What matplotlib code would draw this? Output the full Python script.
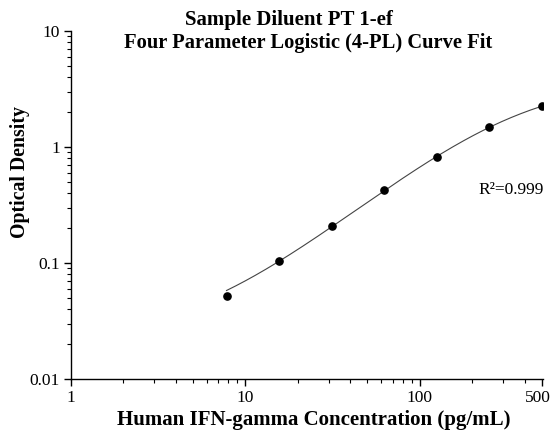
import numpy as np
import matplotlib
matplotlib.use("Agg")
import matplotlib.pyplot as plt
import matplotlib.transforms as mtransforms
from matplotlib.ticker import LogLocator, FixedLocator, FixedFormatter, NullFormatter

# standards
conc = [7.8, 15.6, 31.25, 62.5, 125, 250, 500]
od = [0.052, 0.105, 0.210, 0.424, 0.815, 1.48, 2.24]

x_ticks = [1, 10, 100, 500]
x_tick_labels = ["1", "10", "100", "500"]
y_ticks = [0.01, 0.1, 1, 10]
y_tick_labels = ["0.01", "0.1", "1", "10"]

SERIF = ["Liberation Serif", "DejaVu Serif"]
plt.rcParams["font.family"] = SERIF


def four_pl(x, a, b, c, d):
    return d + (a - d) / (1.0 + (x / c) ** b)


def fit_four_pl(x, y):
    """Grid over slope/midpoint, solve the two asymptotes by least squares."""
    x = np.asarray(x, float)
    y = np.asarray(y, float)
    best = None
    for b in np.linspace(0.5, 2.5, 201):
        for lc in np.linspace(1.0, 4.0, 301):
            g = 1.0 / (1.0 + (x / 10 ** lc) ** b)
            A = np.column_stack([g, 1.0 - g])
            coef = np.linalg.lstsq(A, y, rcond=None)[0]
            err = np.sum((A @ coef - y) ** 2)
            if best is None or err < best[0]:
                best = (err, coef[0], b, 10 ** lc, coef[1])
    return best[1:]


a, b, c, d = fit_four_pl(conc, od)
xs = np.logspace(np.log10(conc[0]), np.log10(conc[-1]), 200)

fig = plt.figure(figsize=(5.52, 4.38), dpi=100)
ax = fig.add_axes([71 / 552, 59 / 438, 472 / 552, 348 / 438])

ax.plot(xs, four_pl(xs, a, b, c, d), "-", color="#444444", lw=0.8)
ax.plot(conc, od, "o", color="black", ms=5.2)

ax.set_xscale("log")
ax.set_yscale("log")
ax.set_xlim(1, 510)
ax.set_ylim(0.01, 10)

ax.xaxis.set_major_locator(FixedLocator(x_ticks))
ax.xaxis.set_major_formatter(FixedFormatter(x_tick_labels))
ax.xaxis.set_minor_locator(LogLocator(base=10, subs=np.arange(2, 10)))
ax.xaxis.set_minor_formatter(NullFormatter())
ax.yaxis.set_major_locator(FixedLocator(y_ticks))
ax.yaxis.set_major_formatter(FixedFormatter(y_tick_labels))
ax.yaxis.set_minor_locator(LogLocator(base=10, subs=np.arange(2, 10)))
ax.yaxis.set_minor_formatter(NullFormatter())

for side in ("top", "right"):
    ax.spines[side].set_visible(False)
for side in ("left", "bottom"):
    ax.spines[side].set_linewidth(1.0)

ax.tick_params(which="major", direction="out", length=5, width=1.0,
               labelsize=12.5, pad=3)
ax.tick_params(which="minor", direction="out", length=3, width=0.8)

# nudge the last x label left so it stays inside the canvas
last = ax.get_xticklabels()[-1]
last.set_transform(last.get_transform() +
                   mtransforms.ScaledTranslation(-4 / 100, 0, fig.dpi_scale_trans))

fig.text(478 / 552, 1 - 190 / 438, "R²=0.999", fontsize=12.5,
         ha="left", va="center")

fig.text(289 / 552, 1 - 20 / 438, "Sample Diluent PT 1-ef", ha="center",
         va="center", fontsize=15, fontweight="bold")
fig.text(308 / 552, 1 - 43 / 438, "Four Parameter Logistic (4-PL) Curve Fit",
         ha="center", va="center", fontsize=14.8, fontweight="bold")
fig.text(314 / 552, 1 - 420 / 438, "Human IFN-gamma Concentration (pg/mL)",
         ha="center", va="center", fontsize=15, fontweight="bold")
fig.text(20 / 552, 1 - 172 / 438, "Optical Density", ha="center",
         va="center", rotation=90, fontsize=14.2, fontweight="bold")

fig.savefig("out.png", dpi=100, facecolor="white")
